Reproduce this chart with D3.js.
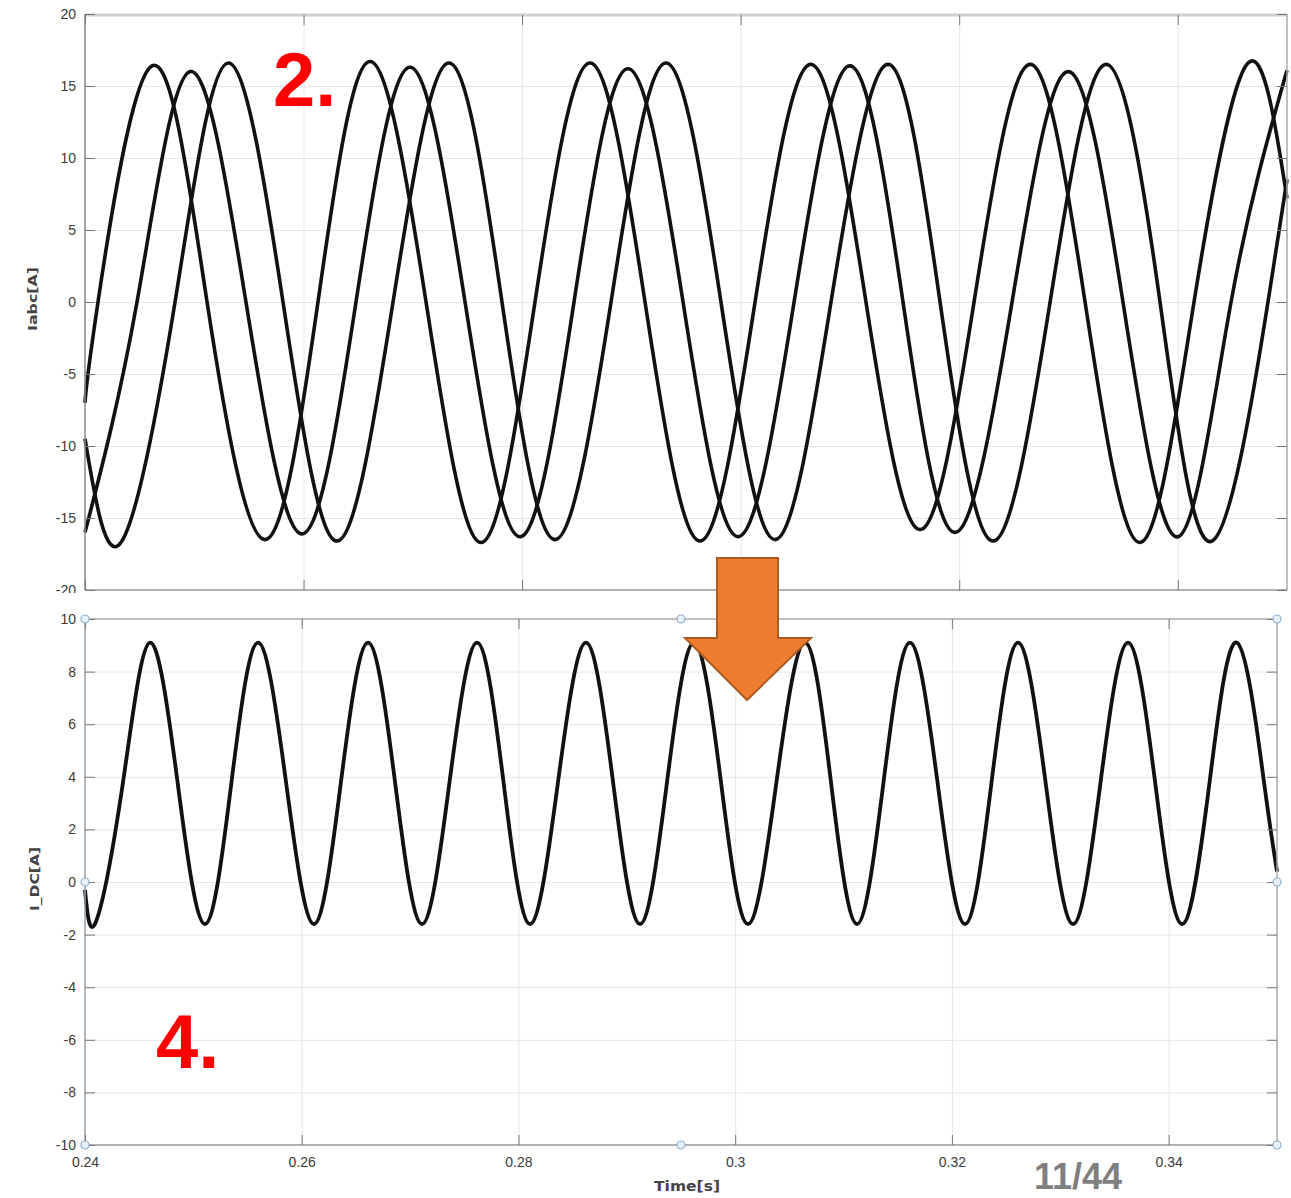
<!DOCTYPE html>
<html>
<head>
<meta charset="utf-8">
<title>Iabc / I_DC</title>
<script src="https://cdn.jsdelivr.net/npm/d3@7"></script>
<style>
  body { margin: 0; background: #fff; }
  svg { display: block; font-family: "DejaVu Sans", sans-serif; }
  .tick text { fill: #3a3a3a; font-size: 14px; }
  .grid line { stroke: #e6e6e6; stroke-width: 1; }
  .grid path { display: none; }
  .ax path { display: none; }
  .ax line { stroke: #777; }
</style>
</head>
<body>
<div id="chart"></div>
<script>
// tick values
var timeTicks = [0.24, 0.26, 0.28, 0.3, 0.32, 0.34];
var iabcTicks = [20, 15, 10, 5, 0, -5, -10, -15, -20];
var idcTicks = [10, 8, 6, 4, 2, 0, -2, -4, -6, -8, -10];

// phase currents [time s, current A], read at peaks / zero crossings
var phaseA = [
  [0.24000, -7.0], [0.24119, 0], [0.24613, 16.4], [0.25117, 0], [0.25647, -16.5],
  [0.26132, 0], [0.26608, 16.7], [0.27121, 0], [0.27624, -16.7], [0.28118, 0],
  [0.28622, 16.6], [0.29125, 0], [0.29628, -16.6], [0.30132, 0], [0.30644, 16.5],
  [0.31147, 0], [0.31642, -15.8], [0.32136, 0], [0.32648, 16.5], [0.33152, 0],
  [0.33655, -16.7], [0.34149, 0], [0.34643, 16.6], [0.35000, 7.2]
];
var phaseB = [
  [0.24000, -16.0], [0.24476, 0], [0.24961, 16.0], [0.25473, 0], [0.25986, -16.1],
  [0.26480, 0], [0.26974, 16.3], [0.27478, 0], [0.27981, -16.3], [0.28475, 0],
  [0.28969, 16.2], [0.29473, 0], [0.29976, -16.3], [0.30489, 0], [0.31001, 16.4],
  [0.31486, 0], [0.31962, -16.0], [0.32484, 0], [0.32996, 16.0], [0.33499, 0],
  [0.34003, -16.3], [0.34488, 0], [0.35000, 16.1]
];
var phaseC = [
  [0.24000, -9.5], [0.24329, -16.7], [0.24824, 0], [0.25309, 16.6], [0.25812, 0],
  [0.26306, -16.6], [0.26819, 0], [0.27331, 16.6], [0.27816, 0], [0.28301, -16.5],
  [0.28814, 0], [0.29317, 16.6], [0.29820, 0], [0.30315, -16.5], [0.30827, 0],
  [0.31349, 16.5], [0.31825, 0], [0.32310, -16.6], [0.32832, 0], [0.33344, 16.5],
  [0.33838, 0], [0.34314, -16.6], [0.34826, 0], [0.35000, 8.5]
];

// DC link current [time s, current A]
var iDC = [
  [0.24000, -0.3], [0.24102, -1.5], [0.24351, 3.8], [0.24600, 9.1], [0.24854, 3.8],
  [0.25107, -1.6], [0.25352, 3.8], [0.25597, 9.1], [0.25855, 3.8], [0.26113, -1.6],
  [0.26362, 3.8], [0.26612, 9.1], [0.26861, 3.8], [0.27110, -1.6], [0.27364, 3.8],
  [0.27618, 9.1], [0.27862, 3.8], [0.28107, -1.6], [0.28365, 3.8], [0.28623, 9.1],
  [0.28873, 3.8], [0.29122, -1.6], [0.29371, 3.8], [0.29620, 9.1], [0.29869, 3.8],
  [0.30118, -1.6], [0.30381, 3.8], [0.30644, 9.1], [0.30884, 3.8], [0.31124, -1.6],
  [0.31369, 3.8], [0.31613, 9.1], [0.31867, 3.8], [0.32121, -1.6], [0.32366, 3.8],
  [0.32610, 9.1], [0.32864, 3.8], [0.33118, -1.6], [0.33372, 3.8], [0.33625, 9.1],
  [0.33875, 3.8], [0.34124, -1.6], [0.34378, 3.8], [0.34631, 9.1], [0.34880, 3.8],
  [0.35000, 0.4]
];

var W = 1291, H = 1198;
var svg = d3.select("#chart").append("svg").attr("width", W).attr("height", H);

var xTop = d3.scaleLinear().domain([0.24, 0.35]).range([85, 1287]);
var yTop = d3.scaleLinear().domain([-20, 20]).range([590, 14]);
var xBot = d3.scaleLinear().domain([0.24, 0.35]).range([85, 1277]);
var yBot = d3.scaleLinear().domain([-10, 10]).range([1145, 619]);

var fmt = function(d) { return String(d); };

// ---------- top panel ----------
var topG = svg.append("g");

topG.append("g").attr("class", "grid")
  .attr("transform", "translate(85,0)")
  .call(d3.axisLeft(yTop).tickValues(iabcTicks.slice(1, -1)).tickSize(-(1287 - 85)).tickFormat(""));
topG.append("g").attr("class", "grid")
  .attr("transform", "translate(0,14)")
  .call(d3.axisBottom(xTop).tickValues(timeTicks.slice(1)).tickSize(590 - 14).tickFormat(""));

var lineTop = d3.line()
  .x(function(d) { return xTop(d[0]); })
  .y(function(d) { return yTop(d[1]); })
  .curve(d3.curveNatural);

[phaseA, phaseB, phaseC].forEach(function(ph) {
  topG.append("path")
    .attr("d", lineTop(ph))
    .attr("fill", "none")
    .attr("stroke", "#111")
    .attr("stroke-width", 3.6)
    .attr("stroke-linejoin", "round");
});

// box
topG.append("line").attr("x1", 85).attr("x2", 1287).attr("y1", 15).attr("y2", 15)
  .attr("stroke", "#cfcfcf").attr("stroke-width", 3);
topG.append("line").attr("x1", 1287).attr("x2", 1287).attr("y1", 14).attr("y2", 590)
  .attr("stroke", "#aaa").attr("stroke-width", 1.5);
topG.append("line").attr("x1", 85).attr("x2", 1287).attr("y1", 590).attr("y2", 590)
  .attr("stroke", "#999").attr("stroke-width", 1.5);
topG.append("line").attr("x1", 85).attr("x2", 85).attr("y1", 14).attr("y2", 590)
  .attr("stroke", "#888").attr("stroke-width", 1.5);

topG.append("g").attr("class", "ax")
  .attr("transform", "translate(85,0)")
  .call(d3.axisLeft(yTop).tickValues(iabcTicks).tickSize(-10).tickPadding(9).tickFormat(fmt));
topG.append("g").attr("class", "ax")
  .attr("transform", "translate(1287,0)")
  .call(d3.axisRight(yTop).tickValues(iabcTicks).tickSize(-10).tickFormat(""));
topG.append("g").attr("class", "ax")
  .attr("transform", "translate(0,15)")
  .call(d3.axisTop(xTop).tickValues(timeTicks).tickSize(-10).tickFormat(""));
topG.append("g").attr("class", "ax")
  .attr("transform", "translate(0,590)")
  .call(d3.axisBottom(xTop).tickValues(timeTicks).tickSize(-10).tickFormat(""));

topG.append("text")
  .attr("transform", "translate(37,299) rotate(-90)")
  .attr("text-anchor", "middle")
  .attr("font-size", 13).attr("font-weight", "bold").attr("fill", "#444")
  .attr("textLength", 64).attr("lengthAdjust", "spacingAndGlyphs")
  .text("Iabc[A]");

// ---------- bottom panel ----------
svg.append("rect").attr("x", 0).attr("y", 593).attr("width", W).attr("height", H - 593)
  .attr("fill", "#fff");

var botG = svg.append("g");

botG.append("g").attr("class", "grid")
  .attr("transform", "translate(85,0)")
  .call(d3.axisLeft(yBot).tickValues(idcTicks.slice(1, -1)).tickSize(-(1277 - 85)).tickFormat(""));
botG.append("g").attr("class", "grid")
  .attr("transform", "translate(0,619)")
  .call(d3.axisBottom(xBot).tickValues(timeTicks.slice(1)).tickSize(1145 - 619).tickFormat(""));

var lineBot = d3.line()
  .x(function(d) { return xBot(d[0]); })
  .y(function(d) { return yBot(d[1]); })
  .curve(d3.curveNatural);

botG.append("path")
  .attr("d", lineBot(iDC))
  .attr("fill", "none")
  .attr("stroke", "#111")
  .attr("stroke-width", 3.8)
  .attr("stroke-linejoin", "round");

botG.append("line").attr("x1", 85).attr("x2", 1277).attr("y1", 619).attr("y2", 619)
  .attr("stroke", "#aaa").attr("stroke-width", 1.5);
botG.append("line").attr("x1", 1277).attr("x2", 1277).attr("y1", 619).attr("y2", 1145)
  .attr("stroke", "#aaa").attr("stroke-width", 1.5);
botG.append("line").attr("x1", 85).attr("x2", 1277).attr("y1", 1145).attr("y2", 1145)
  .attr("stroke", "#999").attr("stroke-width", 1.5);
botG.append("line").attr("x1", 85).attr("x2", 85).attr("y1", 619).attr("y2", 1145)
  .attr("stroke", "#96a0aa").attr("stroke-width", 1.5);

botG.append("g").attr("class", "ax")
  .attr("transform", "translate(85,0)")
  .call(d3.axisLeft(yBot).tickValues(idcTicks).tickSize(-10).tickPadding(9).tickFormat(fmt));
botG.append("g").attr("class", "ax")
  .attr("transform", "translate(1277,0)")
  .call(d3.axisRight(yBot).tickValues(idcTicks).tickSize(-10).tickFormat(""));
botG.append("g").attr("class", "ax")
  .attr("transform", "translate(0,619)")
  .call(d3.axisTop(xBot).tickValues(timeTicks).tickSize(-10).tickFormat(""));
botG.append("g").attr("class", "ax")
  .attr("transform", "translate(0,1145)")
  .call(d3.axisBottom(xBot).tickValues(timeTicks).tickSize(-10).tickPadding(12).tickFormat(fmt));

// selection handles on the bottom axes
var hx = [0.24, 0.295, 0.35], hy = [10, 0, -10];
hx.forEach(function(tx, i) {
  hy.forEach(function(vy, j) {
    if (i === 1 && j === 1) return;
    botG.append("circle")
      .attr("cx", xBot(tx)).attr("cy", yBot(vy)).attr("r", 4)
      .attr("fill", "#e8f0f6").attr("stroke", "#8fb0cc").attr("stroke-width", 1.2);
  });
});

botG.append("text")
  .attr("transform", "translate(39,879) rotate(-90)")
  .attr("text-anchor", "middle")
  .attr("font-size", 13).attr("font-weight", "bold").attr("fill", "#444")
  .attr("textLength", 64).attr("lengthAdjust", "spacingAndGlyphs")
  .text("I_DC[A]");

botG.append("text")
  .attr("x", 687).attr("y", 1191)
  .attr("text-anchor", "middle")
  .attr("font-size", 14).attr("font-weight", "bold").attr("fill", "#444")
  .attr("textLength", 66).attr("lengthAdjust", "spacingAndGlyphs")
  .text("Time[s]");

// ---------- slide annotations ----------
svg.append("text")
  .attr("x", 273).attr("y", 106)
  .attr("font-family", "'Liberation Sans', Arial, sans-serif")
  .attr("font-size", 76).attr("font-weight", "bold").attr("fill", "#ff0000")
  .text("2.");
svg.append("text")
  .attr("x", 156).attr("y", 1068)
  .attr("font-family", "'Liberation Sans', Arial, sans-serif")
  .attr("font-size", 76).attr("font-weight", "bold").attr("fill", "#ff0000")
  .text("4.");

// orange arrow between the two panels
var arrow = [[717, 558], [778, 558], [778, 638], [811, 638], [747, 700], [685, 638], [717, 638]];
svg.append("path")
  .attr("d", d3.line()(arrow) + "Z")
  .attr("fill", "#ed7d31")
  .attr("stroke", "#ae5a21")
  .attr("stroke-width", 2);

svg.append("text")
  .attr("x", 1078).attr("y", 1189)
  .attr("text-anchor", "middle")
  .attr("font-family", "'Liberation Sans', Arial, sans-serif")
  .attr("font-size", 36).attr("font-weight", "bold").attr("fill", "#7f7f7f")
  .text("11/44");
</script>
</body>
</html>
